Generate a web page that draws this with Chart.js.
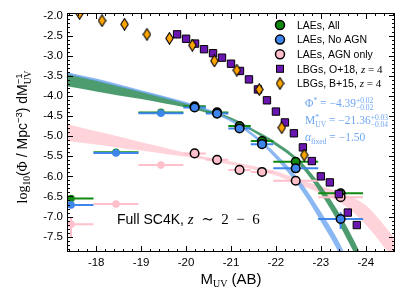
<!DOCTYPE html>
<html>
<head>
<meta charset="utf-8">
<script src="https://cdn.jsdelivr.net/npm/chart.js@4/dist/chart.umd.min.js"></script>
<style>
  html, body { margin: 0; padding: 0; background: #fff; }
  #wrap { width: 404px; height: 303px; }
</style>
</head>
<body>
<div id="wrap"><canvas id="lf"></canvas></div>
<script>
// --- LAE luminosity function bins (SC4K) ---
const binCentres = [-17.44, -18.44, -19.44, -20.19, -20.69, -21.19, -21.69, -22.44, -23.44];
const binHalf    = [0.5, 0.5, 0.5, 0.25, 0.25, 0.25, 0.25, 0.5, 0.5];
const laeAll     = [-6.55, -5.40, -4.41, -4.26, -4.41, -4.75, -5.12, -5.64, -6.42];
const laeNoAgn   = [-6.71, -5.42, -4.43, -4.29, -4.44, -4.81, -5.20, -5.80, -7.06];
const laeAgn     = [-7.19, -6.69, -5.72, -5.43, -5.59, -5.84, -5.89, -6.11, -6.52];
const allErrUp   = [0.05, 0.03, 0.02, 0.02, 0.02, 0.03, 0.04, 0.06, 0.10];
const allErrDn   = [0.06, 0.03, 0.02, 0.02, 0.02, 0.03, 0.04, 0.07, 0.12];
const noAgnErrUp = [0.05, 0.03, 0.02, 0.02, 0.02, 0.03, 0.05, 0.08, 0.17];
const noAgnErrDn = [0.06, 0.03, 0.02, 0.02, 0.02, 0.03, 0.05, 0.09, 0.25];
const agnErrUp   = [0.18, 0.06, 0.04, 0.03, 0.03, 0.04, 0.04, 0.06, 0.10];
const agnErrDn   = [0.32, 0.07, 0.04, 0.03, 0.03, 0.04, 0.04, 0.07, 0.12];

// --- LBG comparison points ---
const o18M   = [-19.8, -20.0, -20.2, -20.4, -20.6, -20.8, -21.0, -21.2, -21.4, -21.6, -21.8,
                -22.0, -22.2, -22.4, -22.6, -22.8, -23.0, -23.2, -23.4, -23.6, -23.8];
const o18Phi = [-2.47, -2.58, -2.70, -2.84, -2.94, -3.05, -3.20, -3.38, -3.59, -3.84, -4.11,
                -4.39, -4.66, -4.93, -5.28, -5.62, -6.00, -6.15, -6.44, -6.90, -7.21];
const b15M   = [-17.63, -18.13, -18.63, -19.13, -19.63, -20.14, -20.63, -21.13, -21.63, -22.13, -22.63];
const b15Phi = [-1.95, -2.13, -2.22, -2.47, -2.57, -2.74, -3.13, -3.36, -3.84, -4.79, -5.47];

// --- Schechter fit bands (upper / lower edge) ---
const fitM       = [-17.35, -18.0, -18.5, -19.0, -19.5, -20.0, -20.5, -21.0, -21.5, -22.0, -22.5, -23.0, -23.5, -24.0, -24.65];
const allFitUp   = [-3.44, -3.61, -3.75, -3.89, -4.03, -4.18, -4.36, -4.54, -4.83, -5.15, -5.57, -6.23, -7.10, -8.25, -10.5];
const allFitLo   = [-3.76, -3.89, -3.99, -4.08, -4.18, -4.29, -4.43, -4.60, -4.90, -5.24, -5.68, -6.43, -7.38, -8.60, -11.2];
const noAgnFitUp = [-3.41, -3.57, -3.71, -3.86, -4.00, -4.15, -4.33, -4.58, -4.94, -5.44, -6.06, -6.88, -7.85, -9.3, -12.0];
const noAgnFitLo = [-3.47, -3.63, -3.77, -3.91, -4.06, -4.20, -4.38, -4.64, -5.02, -5.56, -6.24, -7.12, -8.15, -9.8, -12.8];
const agnFitUp   = [-4.70, -4.88, -5.01, -5.15, -5.28, -5.42, -5.53, -5.63, -5.74, -5.87, -6.07, -6.24, -6.43, -6.72, -7.55];
const agnFitLo   = [-5.12, -5.21, -5.29, -5.36, -5.44, -5.51, -5.60, -5.71, -5.83, -5.98, -6.20, -6.42, -6.70, -7.20, -8.10];

const xTicks = [-18, -19, -20, -21, -22, -23, -24];
const yTicks = [-2.0, -2.5, -3.0, -3.5, -4.0, -4.5, -5.0, -5.5, -6.0, -6.5, -7.0, -7.5];

const GREEN = '#128a12', BLUE = '#3f86ec', PINK = '#ffc0cb';
const PURPLE = '#6a16b0', ORANGE = '#ffa500';
const SANS = '"Liberation Sans", Arial, sans-serif';
const SERIF = '"Liberation Serif", "DejaVu Serif", serif';
const FAINT = 3; // first bins drawn as small, edgeless markers

// thin diamond marker
const diamond = document.createElement('canvas');
diamond.width = 9; diamond.height = 13;
(() => {
  const c = diamond.getContext('2d');
  c.beginPath();
  c.moveTo(4.5, 0.7); c.lineTo(8.2, 6.5); c.lineTo(4.5, 12.3); c.lineTo(0.8, 6.5); c.closePath();
  c.fillStyle = ORANGE; c.fill();
  c.lineWidth = 1.1; c.strokeStyle = '#000'; c.stroke();
})();

const pts = (xs, ys) => xs.map((x, i) => ({ x, y: ys[i] }));

function errSegments(vals, up, dn) {
  const out = [];
  binCentres.forEach((c, i) => {
    out.push({ x: c - binHalf[i], y: vals[i] }, { x: c + binHalf[i], y: vals[i] }, { x: c, y: null });
    out.push({ x: c, y: vals[i] + up[i] }, { x: c, y: vals[i] - dn[i] }, { x: c, y: null });
  });
  return out;
}

function band(label, up, lo, color, order) {
  return [
    { label, data: pts(fitM, up), fill: '+1', backgroundColor: color, borderWidth: 0,
      pointRadius: 0, cubicInterpolationMode: 'monotone', order },
    { label: label + ' lo', data: pts(fitM, lo), fill: false, borderWidth: 0,
      pointRadius: 0, cubicInterpolationMode: 'monotone', order }
  ];
}

function errLine(vals, up, dn, color, order) {
  return { data: errSegments(vals, up, dn), borderColor: color, borderWidth: 2,
           pointRadius: 0, spanGaps: false, fill: false, order };
}

function markers(vals, color, order) {
  return {
    data: pts(binCentres, vals), showLine: false, order,
    pointRadius: vals.map((v, i) => i < FAINT ? 3.8 : 4.3),
    pointBackgroundColor: color,
    pointBorderColor: vals.map((v, i) => i < FAINT ? color : '#000'),
    pointBorderWidth: vals.map((v, i) => i < FAINT ? 0 : 1.5)
  };
}

// rich text: parts = [{t, f, dy, stack}] ; stack = same x as previous part (sub/sup pair)
function layoutRich(ctx, parts) {
  let gx = 0, gw = 0;
  return parts.map(p => {
    ctx.font = p.f;
    const w = ctx.measureText(p.t).width;
    if (p.stack) { gw = Math.max(gw, w); return gx; }
    gx += gw; gw = w; return gx;
  }).concat([gx + gw]);
}
function richWidth(ctx, parts) { const l = layoutRich(ctx, parts); return l[l.length - 1]; }
function drawRich(ctx, parts, x, y) {
  const l = layoutRich(ctx, parts);
  parts.forEach((p, i) => { ctx.font = p.f; ctx.fillText(p.t, x + l[i], y + (p.dy || 0)); });
}

const decor = {
  id: 'decor',
  afterDatasetsDraw(chart) {
    const { ctx, chartArea: a, scales: { x, y } } = chart;
    ctx.save();
    ctx.strokeStyle = '#000';
    ctx.lineWidth = 1;
    ctx.beginPath();
    // x ticks, inward on bottom and top
    for (let k = -246; k <= -174; k += 2) {
      const px = Math.round(x.getPixelForValue(k / 10)) + 0.5;
      const len = k % 10 === 0 ? 6 : 3;
      ctx.moveTo(px, a.bottom); ctx.lineTo(px, a.bottom - len);
      ctx.moveTo(px, a.top); ctx.lineTo(px, a.top + len);
    }
    // y ticks, inward on left and right
    for (let k = -78; k <= -20; k += 1) {
      const py = Math.round(y.getPixelForValue(k / 10)) + 0.5;
      const len = k % 5 === 0 ? 6 : 3;
      ctx.moveTo(a.left, py); ctx.lineTo(a.left + len, py);
      ctx.moveTo(a.right, py); ctx.lineTo(a.right - len, py);
    }
    ctx.stroke();
    ctx.strokeRect(a.left + 0.5, a.top + 0.5, a.right - a.left - 1, a.bottom - a.top - 1);
    ctx.restore();
  },
  afterDraw(chart) {
    const { ctx, chartArea: a } = chart;
    ctx.save();
    ctx.textBaseline = 'alphabetic';

    // legend
    const lx = 280, tx = 297, ly0 = 25, dy = 14.6;
    const entries = [
      { m: 'c', col: GREEN, parts: [{ t: 'LAEs, All', f: '10.5px ' + SANS }] },
      { m: 'c', col: BLUE, parts: [{ t: 'LAEs, No AGN', f: '10.5px ' + SANS }] },
      { m: 'c', col: PINK, parts: [{ t: 'LAEs, AGN only', f: '10.5px ' + SANS }] },
      { m: 's', col: PURPLE, parts: [{ t: 'LBGs, O+18, ', f: '10.5px ' + SANS },
                                     { t: 'z', f: 'italic 11px ' + SERIF }, { t: ' = 4', f: '11px ' + SERIF }] },
      { m: 'd', col: ORANGE, parts: [{ t: 'LBGs, B+15, ', f: '10.5px ' + SANS },
                                     { t: 'z', f: 'italic 11px ' + SERIF }, { t: ' = 4', f: '11px ' + SERIF }] }
    ];
    entries.forEach((e, i) => {
      const cy = ly0 + i * dy;
      ctx.lineWidth = 1.5; ctx.strokeStyle = '#000'; ctx.fillStyle = e.col;
      if (e.m === 'c') {
        ctx.beginPath(); ctx.arc(lx, cy, 4.5, 0, Math.PI * 2); ctx.fill(); ctx.stroke();
      } else if (e.m === 's') {
        ctx.lineWidth = 1;
        ctx.fillRect(lx - 3.5, cy - 3.5, 7, 7); ctx.strokeRect(lx - 3.5, cy - 3.5, 7, 7);
      } else {
        ctx.drawImage(diamond, lx - 4.5, cy - 6.5);
      }
      ctx.fillStyle = '#000';
      drawRich(ctx, e.parts, tx, cy + 3.8);
    });

    // fit parameters (No AGN)
    ctx.fillStyle = '#6fa7f2';
    const mf = '11.5px ' + SERIF, sf = '7.5px ' + SERIF;
    drawRich(ctx, [{ t: '\u03A6', f: mf }, { t: '*', f: sf, dy: -4 }, { t: ' = \u22124.39', f: mf },
                   { t: '+0.02', f: sf, dy: -4.5 }, { t: '\u22120.02', f: sf, dy: 3, stack: true }], 305, 107);
    drawRich(ctx, [{ t: 'M', f: mf }, { t: '*', f: sf, dy: -4 }, { t: 'UV', f: sf, dy: 3, stack: true },
                   { t: ' = \u221221.36', f: mf },
                   { t: '+0.03', f: sf, dy: -4.5 }, { t: '\u22120.04', f: sf, dy: 3, stack: true }], 305, 124);
    drawRich(ctx, [{ t: '\u03B1', f: 'italic ' + mf }, { t: 'fixed', f: sf, dy: 3 }, { t: ' = \u22121.50', f: mf }], 305, 141);

    // sample label
    ctx.fillStyle = '#000';
    drawRich(ctx, [{ t: 'Full SC4K, ', f: '14px ' + SANS }, { t: 'z', f: 'italic 15px ' + SERIF },
                   { t: '\u2002\u223C\u20022\u2002\u2212\u20026', f: '15px ' + SERIF }], 117, 224);

    // x title
    const xt = [{ t: 'M', f: '15px ' + SANS }, { t: 'UV', f: '10px ' + SERIF, dy: 3 }, { t: ' (AB)', f: '15px ' + SANS }];
    drawRich(ctx, xt, (a.left + a.right) / 2 - richWidth(ctx, xt) / 2, 284);

    // y title (rotated)
    const yt = [
      { t: 'log', f: '14px ' + SERIF }, { t: '10', f: '9.5px ' + SERIF, dy: 3 },
      { t: '(', f: '14px ' + SANS }, { t: '\u03A6', f: '14px ' + SERIF }, { t: ' / Mpc', f: '14px ' + SANS },
      { t: '\u22123', f: '9.5px ' + SANS, dy: -5.5 }, { t: ') dM', f: '14px ' + SANS },
      { t: '\u22121', f: '9.5px ' + SANS, dy: -5.5 }, { t: 'UV', f: '9.5px ' + SERIF, dy: 3.5, stack: true }
    ];
    ctx.translate(27, 137);
    ctx.rotate(-Math.PI / 2);
    drawRich(ctx, yt, -richWidth(ctx, yt) / 2, 0);
    ctx.restore();
  }
};

new Chart(document.getElementById('lf'), {
  type: 'line',
  data: {
    datasets: [
      ...band('AGN fit', agnFitUp, agnFitLo, 'rgba(255,182,193,0.6)', 13),
      ...band('All fit', allFitUp, allFitLo, 'rgba(46,139,87,0.85)', 11),
      ...band('No AGN fit', noAgnFitUp, noAgnFitLo, 'rgba(110,165,240,0.8)', 9),
      errLine(laeAll, allErrUp, allErrDn, GREEN, 8),
      errLine(laeNoAgn, noAgnErrUp, noAgnErrDn, BLUE, 7),
      errLine(laeAgn, agnErrUp, agnErrDn, PINK, 6),
      markers(laeAll, GREEN, 5),
      markers(laeNoAgn, BLUE, 4),
      markers(laeAgn, PINK, 3),
      { data: pts(o18M, o18Phi), showLine: false, order: 1, pointStyle: 'rect', pointRadius: 5.2,
        pointBackgroundColor: PURPLE, pointBorderColor: '#000', pointBorderWidth: 1 },
      { data: pts(b15M, b15Phi), showLine: false, order: 0, pointStyle: diamond }
    ]
  },
  options: {
    responsive: true,
    maintainAspectRatio: false,
    animation: false,
    devicePixelRatio: 1,
    layout: { padding: { top: 13, right: 9, left: 0, bottom: 0 } },
    plugins: { legend: { display: false }, tooltip: { enabled: false } },
    scales: {
      x: {
        type: 'linear', reverse: true, min: -24.65, max: -17.35,
        grid: { display: false, drawTicks: false }, border: { display: false },
        afterBuildTicks: s => { s.ticks = xTicks.map(v => ({ value: v })); },
        afterFit: s => { s.height = 51; },
        ticks: { padding: 4, color: '#000', font: { family: SANS, size: 11.5 }, maxRotation: 0,
                 callback: v => String(v) }
      },
      y: {
        type: 'linear', min: -7.88, max: -1.94,
        grid: { display: false, drawTicks: false }, border: { display: false },
        afterBuildTicks: s => { s.ticks = yTicks.map(v => ({ value: v })); },
        afterFit: s => { s.width = 67; },
        ticks: { padding: 4, color: '#000', font: { family: SANS, size: 11.5 },
                 callback: v => v.toFixed(1) }
      }
    }
  },
  plugins: [decor]
});
</script>
</body>
</html>
